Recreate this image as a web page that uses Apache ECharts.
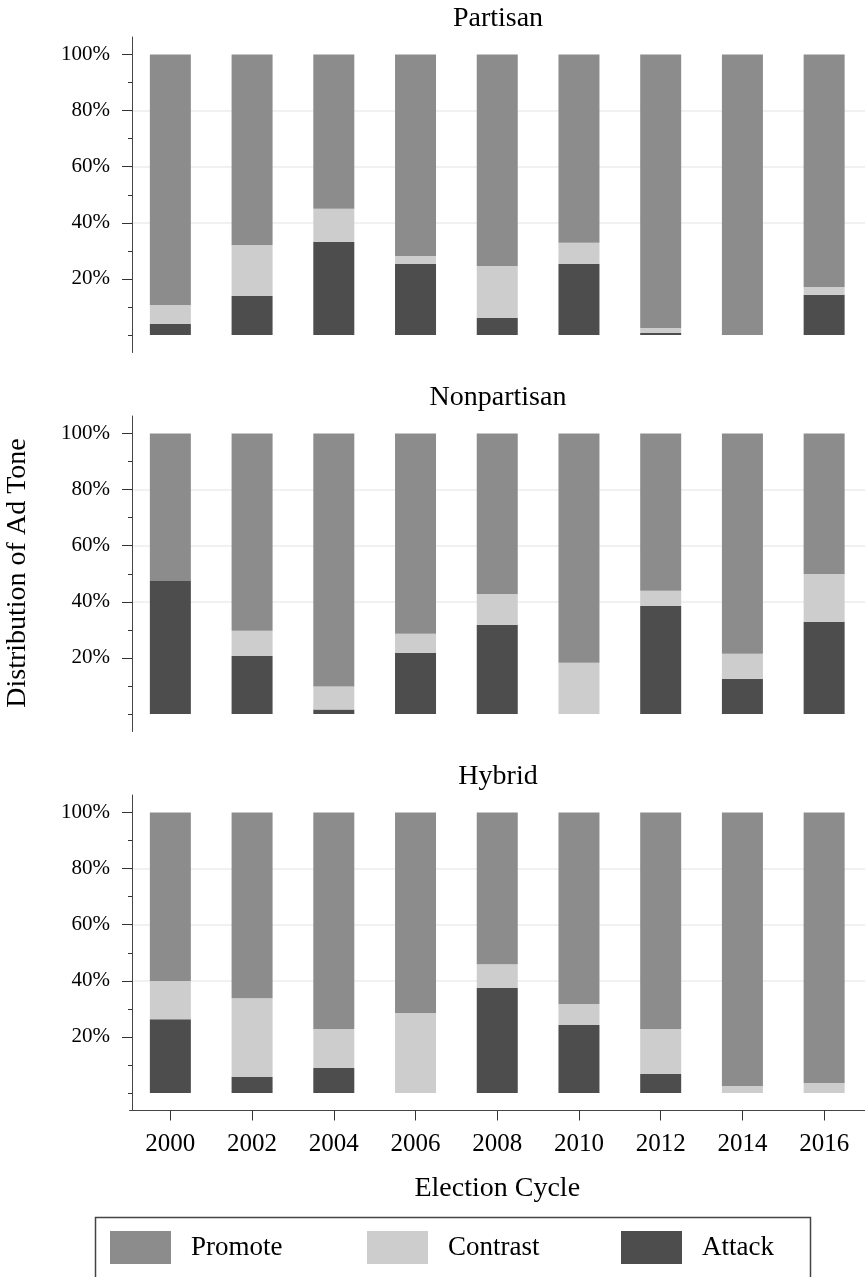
<!DOCTYPE html>
<html>
<head>
<meta charset="utf-8">
<script src="https://cdn.jsdelivr.net/npm/echarts@6/dist/echarts.min.js"></script>
<style>
html,body{margin:0;padding:0;background:#fff;}
#c{width:865px;height:1277px;}
</style>
</head>
<body>
<div id="c"></div>
<script>
// ---- data ----
const years = ['2000', '2002', '2004', '2006', '2008', '2010', '2012', '2014', '2016'];
const panels = ['Partisan', 'Nonpartisan', 'Hybrid'];
const seriesNames = ['Attack', 'Contrast', 'Promote'];
const partisanAttack   = [3.9, 13.9, 33.2, 25.4, 6.1, 25.4, 0.7, 0, 14.3];
const partisanContrast = [6.8, 18.2, 11.8, 2.8, 18.5, 7.5, 1.8, 0, 2.8];
const partisanPromote  = [89.3, 67.9, 55.0, 71.8, 75.4, 67.1, 97.5, 100, 82.9];
const nonpartisanAttack   = [47.4, 20.8, 1.6, 21.8, 31.8, 0, 38.5, 12.6, 32.9];
const nonpartisanContrast = [0, 8.9, 8.2, 6.8, 11.0, 18.3, 5.4, 8.9, 17.0];
const nonpartisanPromote  = [52.6, 70.3, 90.2, 71.4, 57.2, 81.7, 56.1, 78.5, 50.1];
const hybridAttack   = [26.3, 5.7, 8.9, 0, 37.4, 24.2, 6.8, 0, 0];
const hybridContrast = [13.6, 28.1, 13.9, 28.5, 8.5, 7.5, 16.0, 2.5, 3.6];
const hybridPromote  = [60.1, 66.2, 77.2, 71.5, 54.1, 68.3, 77.2, 97.5, 96.4];
const yMajorTicks = [20, 40, 60, 80, 100];
const yMinorTicks = [0, 10, 30, 50, 70, 90];
const xTitle = 'Election Cycle';
const yTitle = 'Distribution of Ad Tone';

const panelData = [
  [partisanAttack, partisanContrast, partisanPromote],
  [nonpartisanAttack, nonpartisanContrast, nonpartisanPromote],
  [hybridAttack, hybridContrast, hybridPromote]
];
const colors = {Attack: '#4d4d4d', Contrast: '#cdcdcd', Promote: '#8c8c8c'};
const FONT = 'Liberation Serif';

const gridTops = [37, 416, 795];
const gridH = 315.5;
const grids = gridTops.map(t => ({left: 129.5, right: -2.5, top: t, height: gridH}));

const xAxes = [], yAxes = [], series = [];
panels.forEach((p, i) => {
  const last = i === panels.length - 1;
  xAxes.push({
    type: 'category', gridIndex: i, data: years, boundaryGap: true,
    axisLine: {show: last, onZero: false, lineStyle: {color: '#444', width: 1}},
    axisTick: {show: last, alignWithLabel: true, length: 10, lineStyle: {color: '#333'}},
    axisLabel: {show: last, fontFamily: FONT, fontSize: 25, color: '#000', margin: 21},
    splitLine: {show: false},
    name: last ? xTitle : '', nameLocation: 'middle', nameGap: 64,
    nameTextStyle: {fontFamily: FONT, fontSize: 28, color: '#000'}
  });
  yAxes.push({
    type: 'value', gridIndex: i, position: 'left', offset: -2.5, min: -6.25, max: 106.25,
    axisLine: {show: true, lineStyle: {color: '#444', width: 1}},
    axisTick: {show: true, customValues: yMajorTicks, length: 10, lineStyle: {color: '#333'}},
    axisLabel: {show: true, customValues: yMajorTicks, formatter: '{value}%', fontFamily: FONT, fontSize: 21, color: '#000', margin: 22},
    splitLine: {show: true, showMinLine: false, showMaxLine: false, lineStyle: {color: '#ececec', width: 1.5}}
  });
  yAxes.push({
    type: 'value', gridIndex: i, position: 'left', offset: -2.5, min: -6.25, max: 106.25,
    axisLine: {show: false},
    axisTick: {show: true, customValues: yMinorTicks, length: 4, lineStyle: {color: '#333'}},
    axisLabel: {show: false},
    splitLine: {show: false}
  });
  seriesNames.forEach((s, k) => {
    series.push({
      type: 'bar', name: s, xAxisIndex: i, yAxisIndex: 2 * i, stack: 'p' + i,
      barWidth: 41, itemStyle: {color: colors[s]},
      data: panelData[i][k]
    });
  });
});

const legendItem = (name, left) => ({
  data: [name], left: left, top: 1231, itemWidth: 61, itemHeight: 33, icon: 'rect',
  padding: 0, selectedMode: false,
  textStyle: {fontFamily: FONT, fontSize: 27, color: '#000', padding: [0, 0, 0, 15]}
});

const titleGraphics = panels.map((p, i) => ({
  type: 'text', x: 498, y: gridTops[i] - 18,
  style: {text: p, font: '28px "' + FONT + '"', fill: '#000', textAlign: 'center', textVerticalAlign: 'middle'}
}));

const chart = echarts.init(document.getElementById('c'), null, {renderer: 'canvas'});
chart.setOption({
  animation: false,
  backgroundColor: '#fff',
  grid: grids,
  xAxis: xAxes,
  yAxis: yAxes,
  series: series,
  legend: [legendItem('Promote', 110), legendItem('Contrast', 367), legendItem('Attack', 621)],
  graphic: titleGraphics.concat([
    {type: 'text', x: 18, y: 573, rotation: Math.PI / 2,
     style: {text: yTitle, font: '28px "' + FONT + '"', fill: '#000', textAlign: 'center', textVerticalAlign: 'middle'}},
    {type: 'rect', shape: {x: 95.5, y: 1217.5, width: 715, height: 80},
     style: {fill: null, stroke: '#444', lineWidth: 1.5}}
  ])
});
</script>
</body>
</html>
